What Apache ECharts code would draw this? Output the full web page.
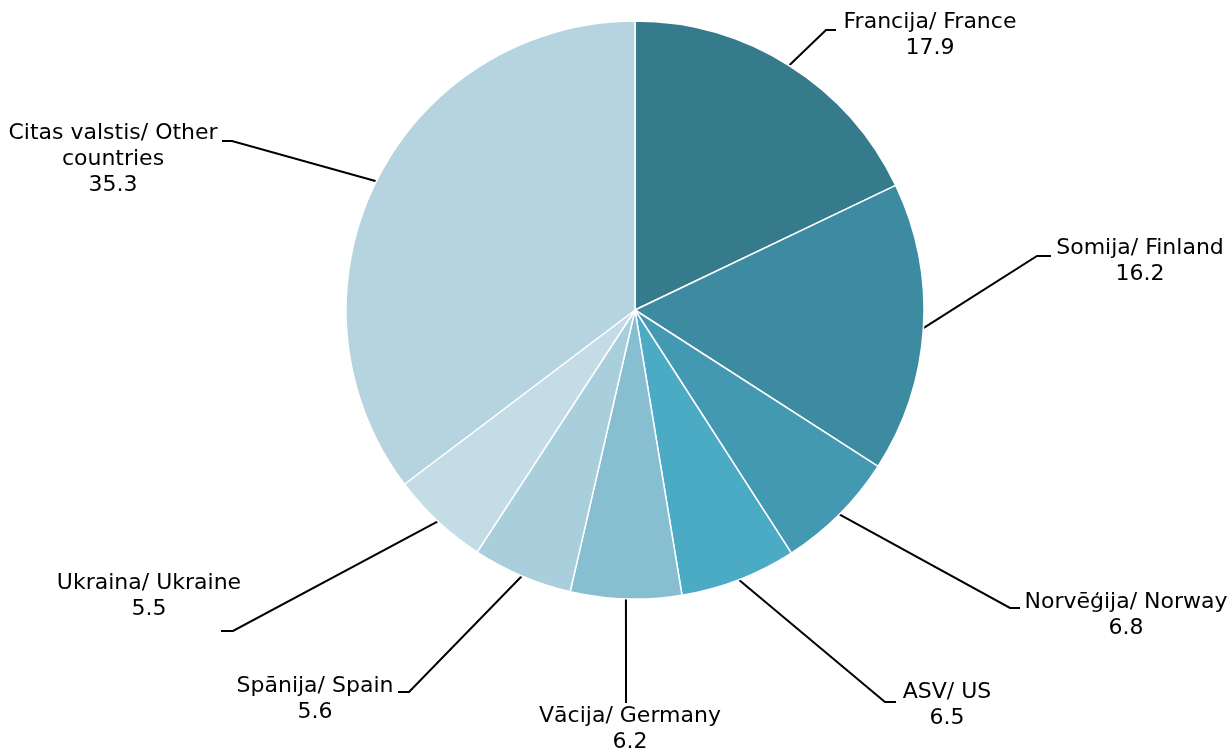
<!DOCTYPE html>
<html>
<head>
<meta charset="utf-8">
<script src="https://cdn.jsdelivr.net/npm/echarts@6/dist/echarts.min.js"></script>
<style>
    html, body { margin: 0; padding: 0; background: #fff; }
    #pie_chart { width: 1232px; height: 753px; }
</style>
</head>
<body>
<div id="pie_chart"></div>
<script>
// data
const countries = [
    'Francija/ France',
    'Somija/ Finland',
    'Norvēģija/ Norway',
    'ASV/ US',
    'Vācija/ Germany',
    'Spānija/ Spain',
    'Ukraina/ Ukraine',
    'Citas valstis/ Other\ncountries'
];
const shares = [17.9, 16.2, 6.8, 6.5, 6.2, 5.6, 5.5, 35.3];
const colors = ['#367b8c', '#3c8ba1', '#4399b1', '#4babc4', '#87bfd0', '#a9cfdc', '#c3dce5', '#b6d4df'];

// label placement: [text centre x, text middle y, elbow x, elbow y, end x, end y]
const labelSpots = [
    [930, 35, 826, 30, 836, 30],
    [1140, 261, 1037, 256, 1051, 256],
    [1126, 615, 1010, 608, 1020, 608],
    [947, 705, 885, 702, 896, 702],
    [630, 729, 626, 660, 626, 703],
    [315, 699, 409, 692, 398, 692],
    [149, 596, 233, 631, 221, 631],
    [113, 159, 232, 141, 222, 141]
];

const chart = echarts.init(document.getElementById('pie_chart'));

const option = {
    animation: false,
    color: colors,
    series: [
        {
            type: 'pie',
            center: [635, 310],
            radius: [0, 289],
            startAngle: 90,
            clockwise: true,
            avoidLabelOverlap: false,
            itemStyle: {
                borderColor: '#fff',
                borderWidth: 1.5
            },
            label: {
                show: true,
                position: 'outside',
                formatter: p => p.name + '\n' + p.value.toFixed(1),
                fontFamily: 'DejaVu Sans, Verdana, sans-serif',
                fontSize: 22,
                lineHeight: 26,
                color: '#000',
                align: 'center'
            },
            labelLine: {
                show: true,
                length: 20,
                length2: 10,
                lineStyle: { color: '#000', width: 2 }
            },
            labelLayout: function (params) {
                const s = labelSpots[params.dataIndex];
                let start = params.labelLinePoints && params.labelLinePoints[0];
                if (!start) {
                    start = [s[2], s[3]];
                }
                return {
                    x: s[0],
                    y: s[1],
                    align: 'center',
                    verticalAlign: 'middle',
                    labelLinePoints: [start, [s[2], s[3]], [s[4], s[5]]]
                };
            },
            emphasis: { disabled: true },
            data: countries.map((name, i) => ({ name: name, value: shares[i] }))
        }
    ]
};

chart.setOption(option);
window.addEventListener('resize', function () {
    chart.resize();
});
</script>
</body>
</html>
